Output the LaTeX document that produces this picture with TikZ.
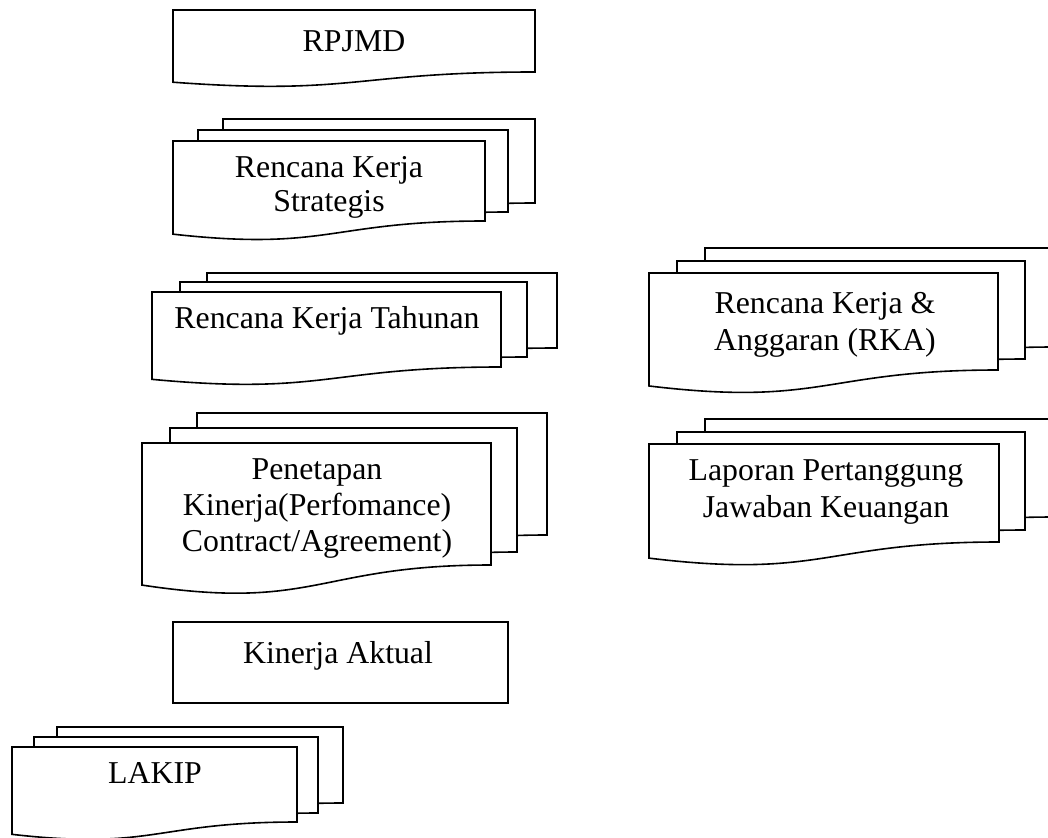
\documentclass[tikz,border=0pt]{standalone}
\usepackage{fontspec}
\setmainfont{Liberation Serif}
\tikzset{
  docline/.style={draw=black, line width=1.6pt, fill=white, line join=miter},
  lbl/.style={anchor=base, inner sep=0pt, font=\fontsize{31.8}{36.5}\selectfont},
}
\newcommand\doclines[2]{{\renewcommand\arraystretch{1}\fontsize{31.8}{#1}\selectfont\begin{tabular}[t]{@{}c@{}}#2\end{tabular}}}
% document shape: left, top, right, y at bottom of right side
\newcommand\docshp[4]{%
  \pgfmathsetmacro\docH{(#4-#2)/0.802}%
  \pgfmathsetmacro\docM{(#1+#3)/2}%
  \pgfmathsetmacro\docLb{#2+0.934*\docH}%
  \pgfmathsetmacro\docC{#2+1.1075*\docH}%
  \draw[docline] (#1,#2) -- (#3,#2) -- (#3,#4) .. controls (\docM,#4) and (\docM,\docC) .. (#1,\docLb) -- cycle;%
}
\begin{document}
\begin{tikzpicture}[x=1pt,y=-1pt]
\fill[white] (0,0) rectangle (1048,837);
\useasboundingbox (0,0) rectangle (1048,837);
\begin{scope}
\clip (0,0) rectangle (1048,837);
% RPJMD
\docshp{173}{10}{535}{72}
\node[lbl] (rpjmd) at (354,52) {RPJMD};
% Rencana Kerja Strategis
\docshp{223}{119}{535}{203}
\docshp{198}{130}{508}{212}
\docshp{173}{141}{485}{221}
\node[lbl] (strategis) at (329,178) {\doclines{34}{Rencana Kerja\\Strategis}};
% Rencana Kerja Tahunan
\docshp{207}{273}{557}{348}
\docshp{180}{282}{527}{357}
\docshp{152}{292}{501}{367}
\node[lbl] (tahunan) at (327,328) {Rencana Kerja Tahunan};
% RKA
\docshp{705}{248}{1055}{347}
\docshp{677}{261}{1025}{359}
\docshp{649}{273}{998}{370}
\node[lbl] (rka) at (825,313) {\doclines{37}{Rencana Kerja \&\\Anggaran (RKA)}};
% Penetapan Kinerja
\docshp{197}{413}{547}{535}
\docshp{170}{428}{517}{552}
\docshp{142}{443}{491}{565}
\node[lbl] (penetapan) at (317,479) {\doclines{36.3}{Penetapan\\Kinerja(Perfomance)\\Contract/Agreement)}};
% Laporan
\docshp{705}{419}{1055}{517}
\docshp{677}{432}{1025}{530}
\docshp{649}{444}{999}{542}
\node[lbl] (laporan) at (826,480) {\doclines{37.5}{Laporan Pertanggung\\Jawaban Keuangan}};
% Kinerja Aktual
\draw[docline] (173,622) rectangle (508,703);
\node[lbl] (aktual) at (338,663) {Kinerja Aktual};
% LAKIP
\docshp{57}{727}{343}{803}
\docshp{34}{737}{318}{813}
\docshp{12}{747}{297}{822}
\node[lbl] (lakip) at (155,783) {LAKIP};
\end{scope}
\end{tikzpicture}
\end{document}
